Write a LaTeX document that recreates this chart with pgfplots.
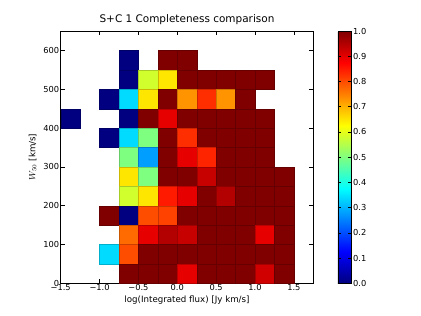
\documentclass[border=0pt]{standalone}
\usepackage{pgfplots}
\pgfplotsset{compat=1.18}
\usepackage{fontspec}
\setmainfont{DejaVu Sans}
\pgfplotstableread{
x y c
-0.625 575 0.0
-0.125 575 1.0
0.125 575 1.0
-0.625 525 0.0
-0.375 525 0.58
-0.125 525 0.65
0.125 525 1.0
0.375 525 1.0
0.625 525 1.0
0.875 525 1.0
1.125 525 1.0
-0.875 475 0.0
-0.625 475 0.34
-0.375 475 0.65
-0.125 475 1.0
0.125 475 0.73
0.375 475 0.83
0.625 475 0.73
0.875 475 1.0
-1.375 425 0.0
-0.625 425 0.0
-0.375 425 1.0
-0.125 425 0.9
0.125 425 1.0
0.375 425 1.0
0.625 425 1.0
0.875 425 1.0
1.125 425 1.0
-0.875 375 0.0
-0.625 375 0.34
-0.375 375 0.5
-0.125 375 1.0
0.125 375 0.83
0.375 375 1.0
0.625 375 1.0
0.875 375 1.0
1.125 375 1.0
-0.625 325 0.5
-0.375 325 0.28
-0.125 325 1.0
0.125 325 0.9
0.375 325 0.84
0.625 325 1.0
0.875 325 1.0
1.125 325 1.0
-0.625 275 0.65
-0.375 275 0.5
-0.125 275 1.0
0.125 275 1.0
0.375 275 0.93
0.625 275 1.0
0.875 275 1.0
1.125 275 1.0
1.375 275 1.0
-0.625 225 0.58
-0.375 225 0.65
-0.125 225 0.85
0.125 225 0.9
0.375 225 1.0
0.625 225 0.95
0.875 225 1.0
1.125 225 1.0
1.375 225 1.0
-0.875 175 1.0
-0.625 175 0.0
-0.375 175 0.8
-0.125 175 0.81
0.125 175 1.0
0.375 175 1.0
0.625 175 1.0
0.875 175 1.0
1.125 175 1.0
1.375 175 1.0
-0.625 125 0.77
-0.375 125 0.9
-0.125 125 0.95
0.125 125 0.93
0.375 125 1.0
0.625 125 1.0
0.875 125 1.0
1.125 125 0.9
1.375 125 1.0
-0.875 75 0.34
-0.625 75 0.8
-0.375 75 1.0
-0.125 75 1.0
0.125 75 1.0
0.375 75 1.0
0.625 75 1.0
0.875 75 1.0
1.125 75 1.0
1.375 75 1.0
-0.625 25 1.0
-0.375 25 1.0
-0.125 25 1.0
0.125 25 0.9
0.375 25 1.0
0.625 25 1.0
0.875 25 1.0
1.125 25 0.92
1.375 25 1.0
}\cells
\begin{document}
\begin{tikzpicture}
\path[use as bounding box] (-60.7bp,-32.7bp) rectangle (360.3bp,283.3bp);
\begin{axis}[
  at={(0,0)}, anchor=south west,
  scale only axis, width=252.6bp, height=252.3bp,
  xmin=-1.5, xmax=1.75, ymin=0, ymax=650,
  xtick={-1.5,-1,-0.5,0,0.5,1,1.5},
  xticklabels={−1.5,−1.0,−0.5,0.0,0.5,1.0,1.5},
  ytick={0,100,200,300,400,500,600},
  yticklabels={0,100,200,300,400,500,600},
  tick align=inside, major tick length=4bp,
  tick style={black, line width=0.5bp},
  axis line style={black, line width=0.8bp},
  tick label style={font=\fontsize{8.3}{9}\selectfont},
  xticklabel style={yshift=2bp},
  yticklabel style={xshift=2bp},
  title={S+C 1 Completeness comparison},
  title style={font=\fontsize{10.5}{12}\selectfont, at={(0.5,1)}, anchor=base, yshift=2.5bp},
  xlabel={log(Integrated flux) [Jy km/s]},
  xlabel style={font=\fontsize{8.7}{9}\selectfont, at={(axis description cs:0.5,0)}, anchor=base, yshift=-19bp},
  ylabel={$W_{50}$ [km/s]},
  ylabel style={font=\fontsize{8.7}{9}\selectfont, at={(axis description cs:-0.1,0.5)}, anchor=base},
  colormap/jet, point meta min=0, point meta max=1,
  colorbar,
  colorbar style={
    at={(parent axis.north east)}, anchor=north west, xshift=16bp,
    scale only axis, width=13.4bp, height=252.3bp,
    ytick={0,0.1,0.2,0.3,0.4,0.5,0.6,0.7,0.8,0.9,1.0},
    yticklabels={0.0,0.1,0.2,0.3,0.4,0.5,0.6,0.7,0.8,0.9,1.0},
    tick align=inside, major tick length=3bp,
    yticklabel style={font=\fontsize{8.3}{9}\selectfont, xshift=-1.5bp},
    axis line style={black, line width=0.6bp},
  },
]
\addplot[scatter, only marks, mark=square*, mark size=9.71bp, scatter src=explicit,
  mark options={line width=0.2bp}] table[x=x, y=y, meta=c] {\cells};
\end{axis}
\end{tikzpicture}
\end{document}
